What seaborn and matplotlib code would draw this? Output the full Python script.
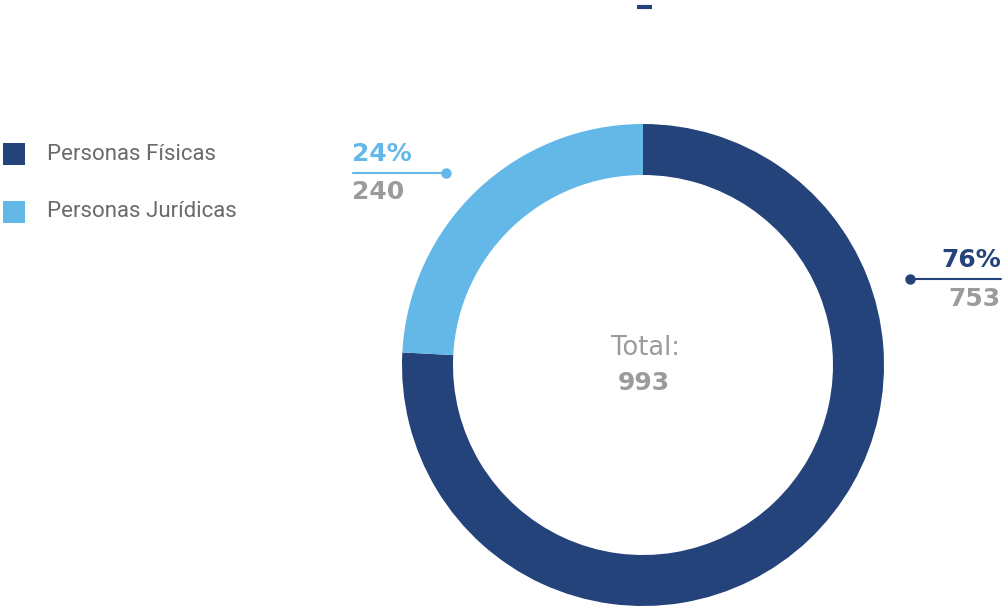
import matplotlib
matplotlib.use("Agg")
import matplotlib.pyplot as plt
import seaborn as sns
from matplotlib.patches import Rectangle

categories = ["Personas Físicas", "Personas Jurídicas"]
values = [753, 240]
colors = ["#24437A", "#64B8E8"]
total_label = "Total:"

sns.set_theme(style="white")
plt.rcParams['font.family'] = ['Roboto', 'DejaVu Sans']
NUMFONT = ['DejaVu Sans']

W, H = 1004, 608
fig = plt.figure(figsize=(W / 100, H / 100), dpi=100)

def fx(x):
    return x / W

def fy(y):
    return 1 - y / H

# donut axes: center (643, 365), radius 241 px
cx, cy, r = 643, 365, 241
ax = fig.add_axes([fx(cx - r), fy(cy + r), 2 * r / W, 2 * r / H])
wedges, _ = ax.pie(values, colors=colors, startangle=90, counterclock=False,
                   radius=1.0, wedgeprops=dict(width=51 / 241, linewidth=0))
ax.set_xlim(-1, 1)
ax.set_ylim(-1, 1)
ax.set_aspect("equal")
ax.axis("off")

total = sum(values)
pcts = [round(v / total * 100) for v in values]

grey = "#9B9B9B"
fig.text(fx(645), fy(348), total_label, ha="center", va="center", fontsize=18.5,
         color=grey, family=NUMFONT)
fig.text(fx(644), fy(383), f"{total}", ha="center", va="center", fontsize=18,
         fontweight="bold", color=grey, family=NUMFONT)

# annotations
# Personas Físicas (right)
fig.text(fx(1001), fy(260), f"{pcts[0]}%", ha="right", va="center", fontsize=18,
         fontweight="bold", color=colors[0], family=NUMFONT)
fig.text(fx(1001), fy(299), f"{values[0]}", ha="right", va="center", fontsize=18,
         fontweight="bold", color=grey, family=NUMFONT)
fig.add_artist(plt.Line2D([fx(910), fx(1001)], [fy(279), fy(279)], color=colors[0], lw=1.5))
fig.add_artist(plt.Line2D([fx(910)], [fy(279)], marker="o", markersize=6.5,
                          color=colors[0], lw=0))

# Personas Jurídicas (left)
fig.text(fx(352), fy(154), f"{pcts[1]}%", ha="left", va="center", fontsize=18,
         fontweight="bold", color=colors[1], family=NUMFONT)
fig.text(fx(352), fy(192), f"{values[1]}", ha="left", va="center", fontsize=18,
         fontweight="bold", color=grey, family=NUMFONT)
fig.add_artist(plt.Line2D([fx(353), fx(446)], [fy(173), fy(173)], color=colors[1], lw=1.5))
fig.add_artist(plt.Line2D([fx(446)], [fy(173)], marker="o", markersize=6.5,
                          color=colors[1], lw=0))

# legend
for i, (cat, col) in enumerate(zip(categories, colors)):
    yc = 154 + i * 58
    fig.add_artist(Rectangle((fx(3), fy(yc + 11)), 22 / W, 22 / H, color=col,
                             transform=fig.transFigure, lw=0))
    fig.text(fx(47), fy(yc), cat, ha="left", va="center", fontsize=16,
             color="#6A6A6A")

# top dash
fig.add_artist(plt.Line2D([fx(637), fx(652)], [fy(7), fy(7)], color=colors[0], lw=3,
                          solid_capstyle="butt"))

fig.savefig("out.png", dpi=100)
